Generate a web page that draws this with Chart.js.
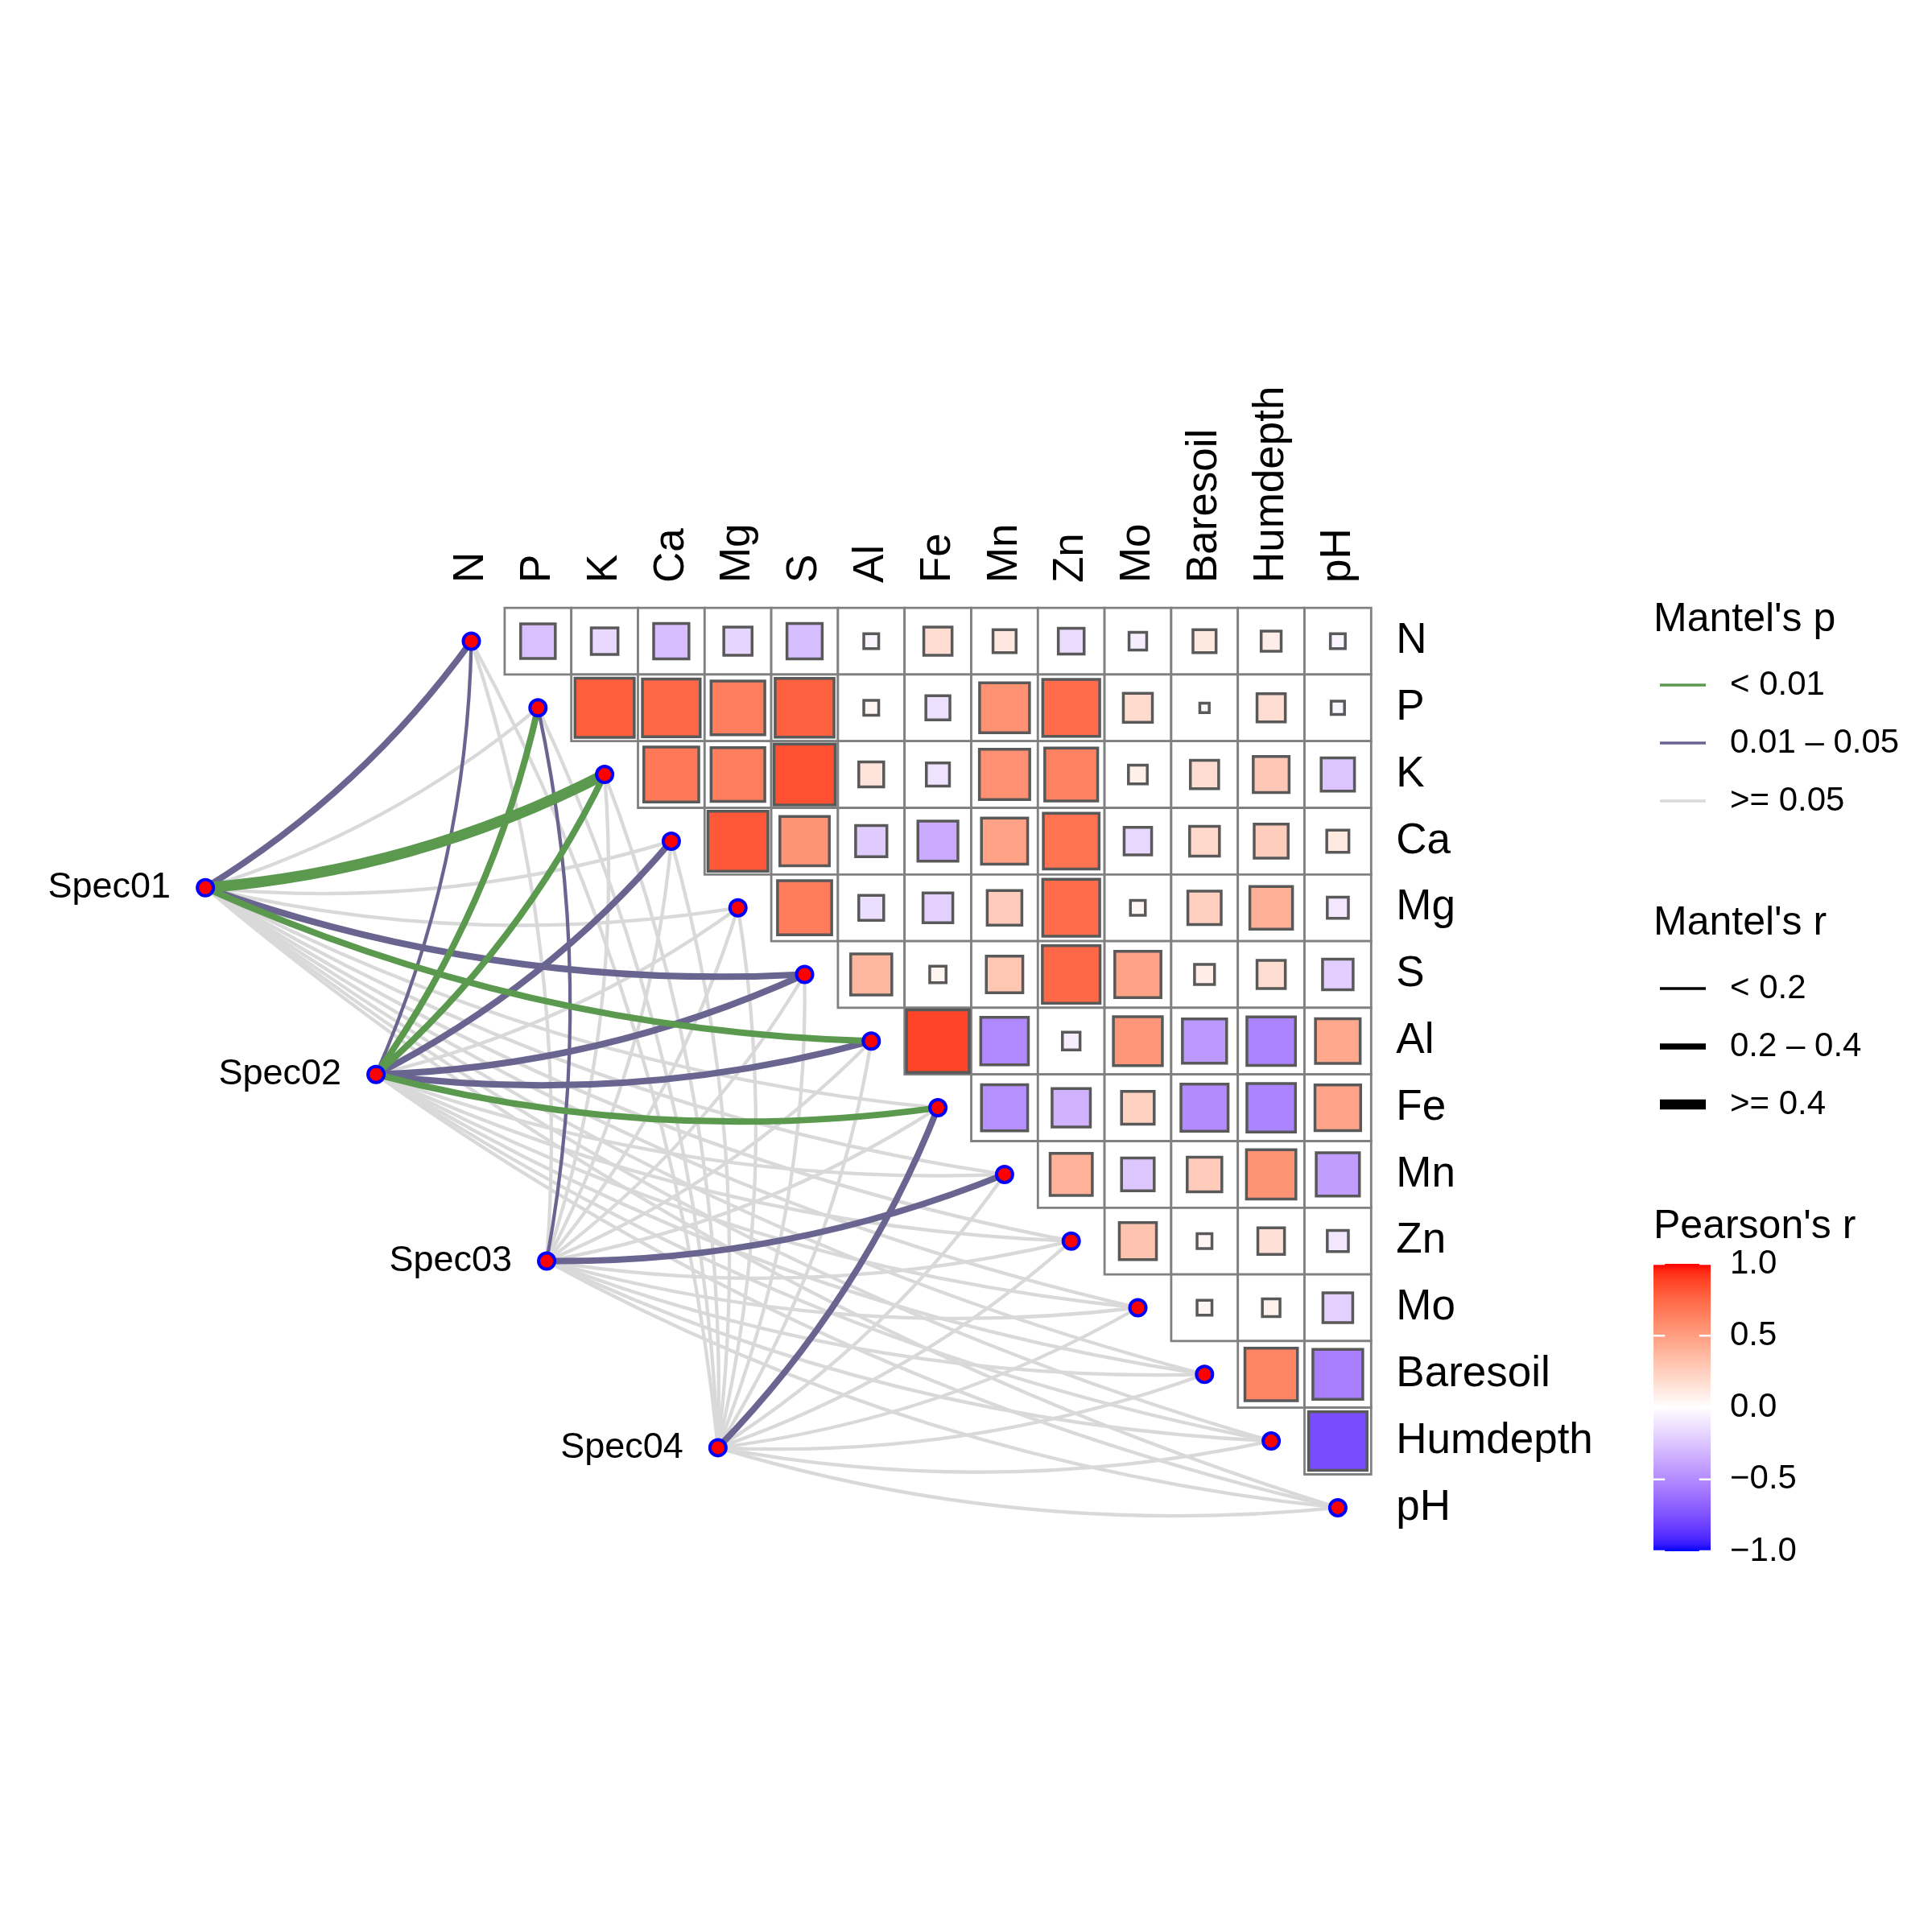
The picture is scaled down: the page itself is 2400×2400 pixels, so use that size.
<!DOCTYPE html>
<html>
<head>
<meta charset="utf-8">
<script src="https://cdn.jsdelivr.net/npm/chart.js@4.4.1/dist/chart.umd.min.js"></script>
<style>
  html, body { margin: 0; padding: 0; background: #fff; }
  #wrap { width: 2400px; height: 2400px; }
</style>
</head>
<body>
<div id="wrap"><canvas id="chart" width="2400" height="2400"></canvas></div>
<script>
const envVars = ['N', 'P', 'K', 'Ca', 'Mg', 'S', 'Al', 'Fe', 'Mn', 'Zn', 'Mo', 'Baresoil', 'Humdepth', 'pH'];

// Pearson's r, upper triangle: row i holds columns i+1 .. 13
const corN = [-0.27, -0.16, -0.28, -0.18, -0.28, -0.05, 0.18, 0.12, -0.15, -0.07, 0.12, 0.09, -0.05];
const corP = [0.79, 0.75, 0.65, 0.78, 0.05, -0.13, 0.56, 0.73, 0.19, 0.02, 0.18, -0.04];
const corK = [0.68, 0.65, 0.84, 0.14, -0.12, 0.57, 0.63, 0.08, 0.18, 0.29, -0.25];
const corCa = [0.81, 0.55, -0.22, -0.36, 0.48, 0.70, -0.17, 0.20, 0.26, 0.11];
const corMg = [0.66, -0.14, -0.20, 0.27, 0.73, 0.05, 0.25, 0.41, -0.10];
const corS = [0.38, 0.06, 0.30, 0.75, 0.48, 0.09, 0.18, -0.21];
const corAl = [0.88, -0.51, -0.07, 0.54, -0.44, -0.53, 0.45];
const corFe = [-0.48, -0.33, 0.24, -0.50, -0.53, 0.47];
const corMn = [0.40, -0.24, 0.27, 0.55, -0.42];
const corZn = [0.31, 0.05, 0.16, -0.10];
const corMo = [0.05, 0.07, -0.20];
const corBaresoil = [0.62, -0.56];
const corHumdepth = [-0.77];
const corRows = [corN, corP, corK, corCa, corMg, corS, corAl, corFe, corMn, corZn, corMo, corBaresoil, corHumdepth];

// species groups and where they sit on the grid
const specNames = ['Spec01', 'Spec02', 'Spec03', 'Spec04'];
const specX = [-3.99, -1.43, 1.13, 3.70];
const specY = [3.70, 6.50, 9.30, 12.10];

// Mantel's r and p for each species group against envVars
const mantelR01 = [0.28, 0.12, 0.46, 0.10, 0.08, 0.30, 0.32, 0.11, 0.09, 0.06, 0.05, 0.07, 0.10, 0.08];
const mantelP01 = [0.020, 0.110, 0.001, 0.180, 0.240, 0.030, 0.004, 0.150, 0.210, 0.350, 0.420, 0.300, 0.130, 0.260];
const mantelR02 = [0.17, 0.33, 0.31, 0.27, 0.12, 0.26, 0.25, 0.29, 0.10, 0.08, 0.07, 0.09, 0.11, 0.06];
const mantelP02 = [0.040, 0.002, 0.003, 0.020, 0.090, 0.020, 0.030, 0.006, 0.160, 0.220, 0.310, 0.190, 0.120, 0.400];
const mantelR03 = [0.06, 0.15, 0.08, 0.07, 0.09, 0.05, 0.10, 0.11, 0.24, 0.08, 0.06, 0.12, 0.09, 0.07];
const mantelP03 = [0.300, 0.040, 0.220, 0.350, 0.180, 0.450, 0.160, 0.120, 0.020, 0.270, 0.380, 0.110, 0.200, 0.330];
const mantelR04 = [0.05, 0.09, 0.07, 0.06, 0.08, 0.10, 0.11, 0.27, 0.09, 0.07, 0.05, 0.12, 0.10, 0.08];
const mantelP04 = [0.420, 0.210, 0.330, 0.280, 0.190, 0.140, 0.120, 0.030, 0.170, 0.290, 0.460, 0.100, 0.150, 0.230];
const mantelR = [mantelR01, mantelR02, mantelR03, mantelR04];
const mantelP = [mantelP01, mantelP02, mantelP03, mantelP04];

// legend labels
const pLabels = ['< 0.01', '0.01 \u2013 0.05', '>= 0.05'];
const rLabels = ['< 0.2', '0.2 \u2013 0.4', '>= 0.4'];
const barTicks = [1, 0.5, 0, -0.5, -1];
const barLabels = ['1.0', '0.5', '0.0', '\u22120.5', '\u22121.0'];

const FONT = '"Liberation Sans", Arial, Helvetica, sans-serif';
const pColors = ['#5A994E', '#6A6590', '#D9D9D9'];
const rWidths = [4.3, 8, 13.5];
const keyWidths = [3.6, 7.3, 12.7];
const CURV = 0.10;

// colour scale: blue - white - red, interpolated in Lab like gradient2
function toLin(c) { c /= 255; return c <= 0.04045 ? c / 12.92 : Math.pow((c + 0.055) / 1.055, 2.4); }
function fromLin(c) {
	c = c <= 0.0031308 ? 12.92 * c : 1.055 * Math.pow(c, 1 / 2.4) - 0.055;
	return Math.round(Math.max(0, Math.min(1, c)) * 255);
}
const WX = 0.95047, WY = 1, WZ = 1.08883;
function rgb2lab([r, g, b]) {
	r = toLin(r); g = toLin(g); b = toLin(b);
	const X = (r * 0.4124 + g * 0.3576 + b * 0.1805) / WX;
	const Y = (r * 0.2126 + g * 0.7152 + b * 0.0722) / WY;
	const Z = (r * 0.0193 + g * 0.1192 + b * 0.9505) / WZ;
	const f = t => t > 0.008856 ? Math.cbrt(t) : 7.787 * t + 16 / 116;
	return [116 * f(Y) - 16, 500 * (f(X) - f(Y)), 200 * (f(Y) - f(Z))];
}
function lab2rgb([L, a, bb]) {
	const fy = (L + 16) / 116, fx = fy + a / 500, fz = fy - bb / 200;
	const inv = t => t > 0.206893 ? t * t * t : (t - 16 / 116) / 7.787;
	const X = inv(fx) * WX, Y = inv(fy) * WY, Z = inv(fz) * WZ;
	const r = X * 3.2406 + Y * -1.5372 + Z * -0.4986;
	const g = X * -0.9689 + Y * 1.8758 + Z * 0.0415;
	const b = X * 0.0557 + Y * -0.2040 + Z * 1.0570;
	return 'rgb(' + fromLin(r) + ',' + fromLin(g) + ',' + fromLin(b) + ')';
}
const labWhite = rgb2lab([255, 255, 255]), labRed = rgb2lab([255, 0, 0]), labBlue = rgb2lab([0, 0, 255]);
function corColor(v) {
	const t = Math.min(1, Math.abs(v)), end = v >= 0 ? labRed : labBlue;
	return lab2rgb(labWhite.map((w, k) => w + (end[k] - w) * t));
}

const unitPx = chart => Math.abs(chart.scales.x.getPixelForValue(1) - chart.scales.x.getPixelForValue(0));

const tileData = [], cellData = [];
corRows.forEach((row, i) => row.forEach((v, k) => {
	tileData.push({ x: i + 1 + k, y: i });
	cellData.push({ x: i + 1 + k, y: i, v: v });
}));
const nodeData = envVars.map((_, i) => ({ x: i, y: i }))
	.concat(specNames.map((_, s) => ({ x: specX[s], y: specY[s] })));

const links = [];
mantelR.forEach((rs, s) => rs.forEach((r, e) => {
	const p = mantelP[s][e];
	links.push({
		s: s, e: e,
		level: p < 0.01 ? 0 : p < 0.05 ? 1 : 2,
		width: r < 0.2 ? rWidths[0] : r < 0.4 ? rWidths[1] : rWidths[2],
	});
}));

const linkPlugin = {
	id: 'mantelLinks',
	beforeDatasetsDraw(chart) {
		const { ctx, scales: { x, y } } = chart;
		const sorted = links.slice().sort((a, b) => b.level - a.level);
		ctx.save();
		ctx.lineCap = 'butt';
		sorted.forEach(l => {
			const x0 = x.getPixelForValue(specX[l.s]), y0 = y.getPixelForValue(specY[l.s]);
			const x1 = x.getPixelForValue(l.e), y1 = y.getPixelForValue(l.e);
			const dx = x1 - x0, dy = y1 - y0;
			ctx.beginPath();
			ctx.moveTo(x0, y0);
			ctx.quadraticCurveTo((x0 + x1) / 2 - dy * CURV, (y0 + y1) / 2 + dx * CURV, x1, y1);
			ctx.strokeStyle = pColors[l.level];
			ctx.lineWidth = l.width;
			ctx.stroke();
		});
		ctx.restore();
	},
	afterDatasetsDraw(chart) {
		const { ctx, scales: { x, y } } = chart;
		ctx.save();
		ctx.font = '45px ' + FONT;
		ctx.fillStyle = '#000';
		ctx.textAlign = 'right';
		ctx.textBaseline = 'middle';
		specNames.forEach((name, s) => {
			ctx.fillText(name, x.getPixelForValue(specX[s]) - 43, y.getPixelForValue(specY[s]));
		});
		ctx.restore();
	},
};

const legendPlugin = {
	id: 'mantelLegend',
	afterDraw(chart) {
		const ctx = chart.ctx;
		const left = 2054, keyX0 = 2062, keyX1 = 2119, textX = 2149;
		ctx.save();
		ctx.fillStyle = '#000';
		ctx.textAlign = 'left';
		ctx.textBaseline = 'middle';
		const key = (yy, color, w) => {
			ctx.beginPath();
			ctx.moveTo(keyX0, yy);
			ctx.lineTo(keyX1, yy);
			ctx.strokeStyle = color;
			ctx.lineWidth = w;
			ctx.stroke();
		};

		ctx.font = '50px ' + FONT;
		ctx.fillText("Mantel's p", left, 770);
		ctx.font = '42px ' + FONT;
		pLabels.forEach((lab, k) => {
			key(851 + k * 72, pColors[k], keyWidths[0]);
			ctx.fillText(lab, textX, 851 + k * 72);
		});

		ctx.font = '50px ' + FONT;
		ctx.fillText("Mantel's r", left, 1147);
		ctx.font = '42px ' + FONT;
		rLabels.forEach((lab, k) => {
			key(1228 + k * 72, '#000', keyWidths[k]);
			ctx.fillText(lab, textX, 1228 + k * 72);
		});

		ctx.font = '50px ' + FONT;
		ctx.fillText("Pearson's r", left, 1524);
		const barTop = 1570, barBot = 1927, barL = 2054, barW = 71;
		const grad = ctx.createLinearGradient(0, barTop, 0, barBot);
		for (let k = 0; k <= 40; k++) grad.addColorStop(k / 40, corColor(1 - k / 20));
		ctx.fillStyle = grad;
		ctx.fillRect(barL, barTop, barW, barBot - barTop);
		ctx.strokeStyle = '#fff';
		ctx.lineWidth = 2.5;
		ctx.fillStyle = '#000';
		ctx.font = '42px ' + FONT;
		barTicks.forEach((v, k) => {
			const yy = barTop + (1 - v) / 2 * (barBot - barTop);
			ctx.beginPath();
			ctx.moveTo(barL, yy); ctx.lineTo(barL + barW * 0.2, yy);
			ctx.moveTo(barL + barW * 0.8, yy); ctx.lineTo(barL + barW, yy);
			ctx.stroke();
			ctx.fillText(barLabels[k], textX, yy);
		});
		ctx.restore();
	},
};

const tickFont = { family: FONT, size: 53, lineHeight: 1.2 };

new Chart(document.getElementById('chart'), {
	type: 'scatter',
	data: {
		datasets: [
			{
				label: 'nodes',
				data: nodeData,
				order: 0,
				clip: false,
				pointStyle: 'circle',
				pointRadius: 10,
				pointBackgroundColor: '#FF0000',
				pointBorderColor: '#0000FF',
				pointBorderWidth: 4,
			},
			{
				label: "Pearson's r",
				data: cellData,
				order: 1,
				clip: false,
				pointStyle: 'rect',
				pointRadius: ctx => Math.sqrt(Math.abs(ctx.raw.v)) * unitPx(ctx.chart) / Math.SQRT2,
				pointBackgroundColor: ctx => corColor(ctx.raw.v),
				pointBorderColor: '#595959',
				pointBorderWidth: 3.5,
			},
			{
				label: 'tiles',
				data: tileData,
				order: 2,
				clip: false,
				pointStyle: 'rect',
				pointRadius: ctx => unitPx(ctx.chart) / Math.SQRT2,
				pointBackgroundColor: '#FFFFFF',
				pointBorderColor: '#808080',
				pointBorderWidth: 2.8,
			},
		],
	},
	options: {
		responsive: false,
		devicePixelRatio: 1,
		animation: false,
		events: [],
		layout: { padding: { left: 171.5, top: 455.1, right: 396.7, bottom: 444.3 } },
		plugins: { legend: { display: false }, tooltip: { enabled: false } },
		scales: {
			x: {
				type: 'linear',
				position: 'top',
				min: -5,
				max: 13.5,
				grid: { display: false, drawTicks: false },
				border: { display: false },
				afterBuildTicks: s => { s.ticks = envVars.map((_, i) => ({ value: i })); },
				afterFit: s => { s.height = 300; },
				ticks: {
					autoSkip: false,
					minRotation: 90,
					maxRotation: 90,
					padding: 31,
					// rotated labels on a top axis sit one line height to the left
					labelOffset: 53 * 1.2,
					color: '#000',
					font: tickFont,
					callback: v => envVars[v],
				},
			},
			y: {
				type: 'linear',
				position: 'right',
				reverse: true,
				min: -0.5,
				max: 14,
				grid: { display: false, drawTicks: false },
				border: { display: false },
				afterBuildTicks: s => { s.ticks = envVars.map((_, i) => ({ value: i })); },
				afterFit: s => { s.width = 300; },
				ticks: {
					autoSkip: false,
					padding: 31,
					color: '#000',
					font: tickFont,
					callback: v => envVars[v],
				},
			},
		},
	},
	plugins: [linkPlugin, legendPlugin],
});
</script>
</body>
</html>
